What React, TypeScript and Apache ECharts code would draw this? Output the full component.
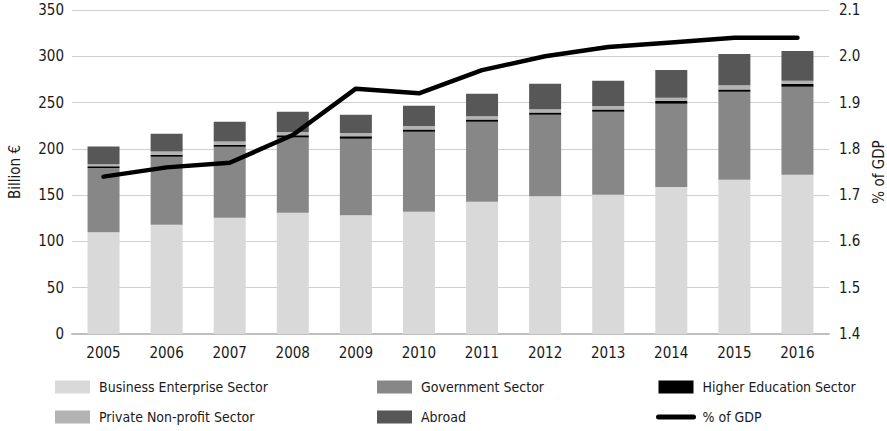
import React, { useEffect, useRef } from "react";
import * as echarts from "echarts";

const years = ["2005", "2006", "2007", "2008", "2009", "2010", "2011", "2012", "2013", "2014", "2015", "2016"];
const businessEnterprise = [109.8, 118.1, 125.7, 131.0, 128.2, 132.1, 142.9, 148.7, 150.5, 158.8, 166.7, 172.1];
const government = [69.5, 73.4, 76.6, 81.3, 82.7, 86.3, 86.3, 88.1, 89.5, 89.8, 94.9, 94.9];
const higherEducation = [2.0, 2.2, 2.2, 2.5, 2.8, 2.6, 2.6, 2.6, 2.5, 3.0, 2.6, 3.2];
const privateNonProfit = [2.0, 3.5, 3.5, 3.5, 3.5, 3.8, 3.5, 3.5, 3.8, 3.6, 4.5, 3.5];
const abroad = [19.3, 19.1, 21.2, 21.7, 19.6, 21.7, 24.1, 27.3, 27.2, 30.1, 33.9, 32.1];
const pctGDP = [1.74, 1.76, 1.77, 1.83, 1.93, 1.92, 1.97, 2.0, 2.02, 2.03, 2.04, 2.04];

const FONT = "'DejaVu Sans Condensed', 'Roboto Condensed', 'Liberation Sans Narrow', Roboto, sans-serif";
const TXT = "#1a1a1a";

export default function App() {
  const ref = useRef<HTMLDivElement>(null);
  useEffect(() => {
    if (!ref.current) return;
    document.documentElement.style.overflow = "hidden";
    document.body.style.overflow = "hidden";
    document.body.style.margin = "0";
    const chart = echarts.init(ref.current, null, { renderer: "svg", width: 887, height: 431 });
    const legendText = { fontFamily: FONT, fontSize: 14, lineHeight: 16, color: TXT, padding: [0, 0, 0, 4] };
    const legendCommon = {
      orient: "vertical",
      top: 379,
      height: 52,
      padding: 0,
      itemWidth: 35,
      itemHeight: 13,
      itemGap: 14,
      textStyle: legendText,
      selectedMode: false,
    };
    chart.setOption({
      animation: false,
      textStyle: { fontFamily: FONT },
      grid: { left: 72, right: 58, top: 10, bottom: 97, containLabel: false, outerBoundsMode: "none" },
      legend: [
        {
          ...legendCommon,
          left: 55,
          data: [
            { name: "Business Enterprise Sector", icon: "rect" },
            { name: "Private Non-profit Sector", icon: "rect" },
          ],
        },
        {
          ...legendCommon,
          left: 377,
          data: [
            { name: "Government Sector", icon: "rect" },
            { name: "Abroad", icon: "rect" },
          ],
        },
        {
          ...legendCommon,
          left: 656,
          data: [
            { name: "Higher Education Sector", icon: "rect" },
            { name: "% of GDP", itemStyle: { opacity: 0 }, lineStyle: { width: 5, cap: "round", color: "#000" } },
          ],
        },
      ],
      xAxis: {
        type: "category",
        data: years,
        axisLine: { lineStyle: { color: "#bfbfbf", width: 2 } },
        axisTick: { inside: true, length: 7, lineStyle: { color: "#bfbfbf", width: 1 } },
        axisLabel: { fontFamily: FONT, fontSize: 15, color: TXT, margin: 11 },
      },
      yAxis: [
        {
          type: "value",
          min: 0,
          max: 350,
          interval: 50,
          name: "Billion €",
          nameLocation: "middle",
          nameGap: 50,
          nameRotate: 90,
          nameTextStyle: { fontFamily: FONT, fontSize: 15, color: TXT },
          axisLine: { show: false },
          axisTick: { show: false },
          axisLabel: { fontFamily: FONT, fontSize: 15, color: TXT, margin: 8 },
          splitLine: { lineStyle: { color: "#cfcfcf", width: 1 } },
        },
        {
          type: "value",
          min: 1.4,
          max: 2.1,
          interval: 0.1,
          name: "% of GDP",
          nameLocation: "middle",
          nameGap: 41,
          nameRotate: 90,
          nameTextStyle: { fontFamily: FONT, fontSize: 15, color: TXT },
          axisLine: { show: false },
          axisTick: { show: false },
          axisLabel: {
            fontFamily: FONT,
            fontSize: 15,
            color: TXT,
            margin: 10,
            formatter: (v: number) => v.toFixed(1),
          },
          splitLine: { show: false },
        },
      ],
      series: [
        { name: "Business Enterprise Sector", type: "bar", stack: "a", barWidth: 32, data: businessEnterprise, itemStyle: { color: "#d9d9d9" } },
        { name: "Government Sector", type: "bar", stack: "a", data: government, itemStyle: { color: "#878787" } },
        { name: "Higher Education Sector", type: "bar", stack: "a", data: higherEducation, itemStyle: { color: "#000000" } },
        { name: "Private Non-profit Sector", type: "bar", stack: "a", data: privateNonProfit, itemStyle: { color: "#b3b3b3" } },
        { name: "Abroad", type: "bar", stack: "a", data: abroad, itemStyle: { color: "#575757" } },
        {
          name: "% of GDP",
          type: "line",
          yAxisIndex: 1,
          data: pctGDP,
          symbol: "none",
          itemStyle: { color: "#000000" },
          lineStyle: { color: "#000000", width: 4.5, cap: "round", join: "round" },
          z: 5,
        },
      ],
    });
    return () => chart.dispose();
  }, []);
  return (
    <div
      ref={ref}
      style={{ position: "fixed", left: 0, top: 0, width: 887, height: 431, background: "#ffffff" }}
    />
  );
}
